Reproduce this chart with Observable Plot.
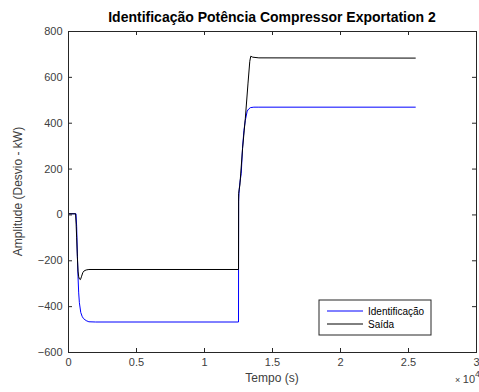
<!DOCTYPE html>
<html><head><meta charset="utf-8">
<script src="https://cdn.jsdelivr.net/npm/d3@7"></script>
<script src="https://cdn.jsdelivr.net/npm/@observablehq/plot@0.6"></script>
<style>body{margin:0;background:#fff}</style>
</head><body><div id="chart"></div>
<script>
const seriesNames = ["Identificação", "Saída"];
const tIdent = [0, 550, 600, 650, 700, 750, 800, 900, 1000, 1100, 1300, 1500, 2000, 12500, 12510, 12550, 12600, 12700, 12800, 12900, 13000, 13140, 13250, 13380, 13630, 14000, 25500];
const vIdent = [5, 5, -50, -170, -270, -340, -383, -425, -442, -452, -461, -466, -467, -467, 60, 110, 140, 180, 296, 369, 412, 453, 462, 468, 470, 470, 470];
const tSaida = [0, 520, 560, 600, 650, 700, 750, 800, 880, 950, 1050, 1150, 1300, 1500, 12500, 12510, 12600, 12800, 13000, 13200, 13330, 13400, 13550, 14000, 25500];
const vSaida = [5, 5, -40, -100, -180, -245, -270, -279, -282, -270, -252, -244, -240, -238, -238, 93, 130, 290, 420, 575, 670, 692, 688, 685, 684];
const xTicks = [0, 5000, 10000, 15000, 20000, 25000, 30000];
const xTickLabels = ["0", "0.5", "1", "1.5", "2", "2.5", "3"];
const yTicks = [-600, -400, -200, 0, 200, 400, 600, 800];
const colors = ["#0000ff", "#000000"];

const ident = tIdent.map((t, i) => ({t, v: vIdent[i]}));
const saida = tSaida.map((t, i) => ({t, v: vSaida[i]}));

const W = 479, H = 392, mL = 68, mR = 3, mT = 31, mB = 40;
const ph = H - mT - mB, pw = W - mL - mR, tl = 4;
const axisColor = "#262626", labelColor = "#404040";

const chart = Plot.plot({
  width: W, height: H,
  marginLeft: mL, marginRight: mR, marginTop: mT, marginBottom: mB,
  style: {fontFamily: "'Liberation Sans', Arial, sans-serif", fontSize: "11px", background: "#fff", color: labelColor},
  x: {domain: [0, 30000]},
  y: {domain: [-600, 800]},
  marks: [
    Plot.line(ident, {x: "t", y: "v", stroke: colors[0], strokeWidth: 1}),
    Plot.line(saida, {x: "t", y: "v", stroke: colors[1], strokeWidth: 1}),
    Plot.ruleX(xTicks, {stroke: axisColor, insetTop: ph - tl}),
    Plot.ruleX(xTicks, {stroke: axisColor, insetBottom: ph - tl}),
    Plot.ruleY(yTicks, {stroke: axisColor, insetRight: pw - tl}),
    Plot.ruleY(yTicks, {stroke: axisColor, insetLeft: pw - tl}),
    Plot.frame({stroke: axisColor}),
    Plot.axisX({ticks: xTicks, tickFormat: d => xTickLabels[xTicks.indexOf(d)], tickSize: 0, tickPadding: 6, fill: labelColor, label: null}),
    Plot.axisY({ticks: yTicks, tickSize: 0, tickPadding: 6, fill: labelColor, label: null})
  ]
});
document.getElementById("chart").appendChild(chart);

const svg = d3.select(chart);
svg.append("text").attr("x", mL + pw / 2).attr("y", 22).attr("text-anchor", "middle")
  .attr("font-weight", "bold").attr("font-size", 14).attr("fill", "#000")
  .text("Identificação Potência Compressor Exportation 2");
svg.append("text").attr("x", mL + pw / 2).attr("y", 382).attr("text-anchor", "middle")
  .attr("font-size", 12).attr("fill", labelColor).text("Tempo (s)");
svg.append("text").attr("transform", `translate(22,${mT + ph / 2}) rotate(-90)`).attr("text-anchor", "middle")
  .attr("font-size", 12).attr("fill", labelColor).text("Amplitude (Desvio - kW)");
const mult = svg.append("text").attr("x", 455).attr("y", 383).attr("text-anchor", "start").attr("font-size", 11).attr("fill", labelColor);
mult.append("tspan").attr("font-size", 9).text("× ");
mult.append("tspan").text("10");
mult.append("tspan").attr("dy", -6).attr("font-size", 9).text("4");

const lg = svg.append("g");
lg.append("rect").attr("x", 319).attr("y", 300).attr("width", 112).attr("height", 35)
  .attr("fill", "#fff").attr("stroke", axisColor).attr("stroke-width", 1);
seriesNames.forEach((name, i) => {
  const y = 311 + i * 13;
  lg.append("line").attr("x1", 327).attr("x2", 363).attr("y1", y).attr("y2", y).attr("stroke", colors[i]);
  lg.append("text").attr("x", 368).attr("y", y + 4).attr("text-anchor", "start").attr("font-size", 10).attr("fill", "#000").text(name);
});
</script></body></html>
